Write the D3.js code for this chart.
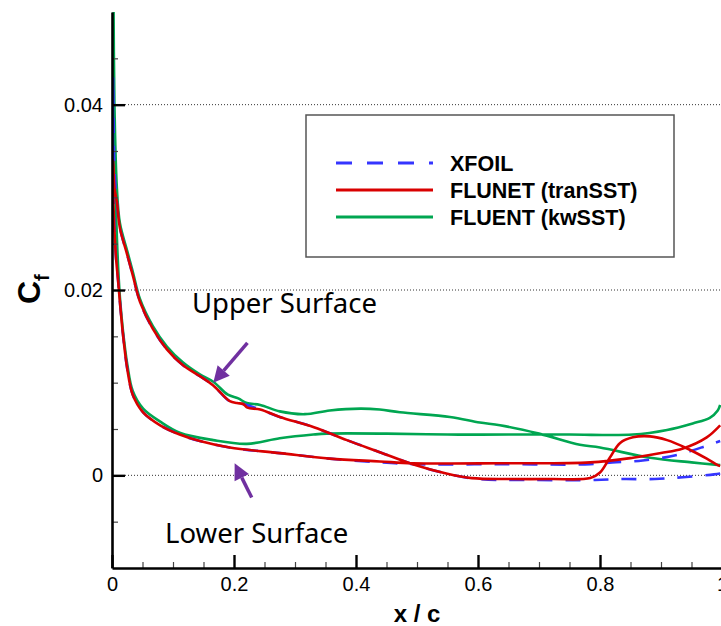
<!DOCTYPE html>
<html>
<head>
<meta charset="utf-8">
<script src="https://cdn.jsdelivr.net/npm/d3@7/dist/d3.min.js"></script>
<style>
body { margin: 0; background: #fff; }
</style>
</head>
<body>
<svg id="chart" width="721" height="626"></svg>
<script>
// ---- data ----
// FLUNET (tranSST), red
var flunetUpperX  = [0.002, 0.004, 0.008, 0.013, 0.025, 0.034, 0.046, 0.067, 0.090, 0.116, 0.144, 0.166, 0.193, 0.205, 0.215, 0.222, 0.243, 0.275, 0.331, 0.385, 0.439, 0.493, 0.548, 0.590, 0.650, 0.720, 0.784, 0.800, 0.816, 0.833, 0.854, 0.882, 0.910, 0.943, 0.975, 0.993, 0.997];
var flunetUpperCf = [0.034, 0.031, 0.0295, 0.0267, 0.0238, 0.0216, 0.0187, 0.0158, 0.0136, 0.0119, 0.0107, 0.0097, 0.0080, 0.0078, 0.0077, 0.0073, 0.0071, 0.0063, 0.0052, 0.0038, 0.0025, 0.0012, 0.0002, -0.0003, -0.0004, -0.0004, -0.0003, 0.0003, 0.0019, 0.0035, 0.0041, 0.0042, 0.0038, 0.0029, 0.0018, 0.0011, 0.0010];
var flunetLowerX  = [0.002, 0.006, 0.010, 0.013, 0.018, 0.025, 0.034, 0.051, 0.079, 0.111, 0.144, 0.193, 0.275, 0.357, 0.439, 0.493, 0.636, 0.784, 0.854, 0.900, 0.936, 0.975, 0.997];
var flunetLowerCf = [0.030, 0.024, 0.021, 0.0187, 0.0152, 0.0115, 0.0087, 0.0068, 0.0054, 0.0044, 0.0037, 0.0030, 0.0024, 0.0018, 0.0015, 0.0013, 0.0013, 0.0014, 0.0019, 0.0024, 0.0029, 0.0041, 0.0054];

// XFOIL, blue dashed
var xfoilUpperX  = [0.002, 0.004, 0.008, 0.013, 0.025, 0.034, 0.046, 0.067, 0.090, 0.116, 0.144, 0.166, 0.193, 0.215, 0.243, 0.275, 0.331, 0.385, 0.439, 0.493, 0.548, 0.600, 0.680, 0.792, 0.836, 0.890, 0.936, 0.987, 0.997];
var xfoilUpperCf = [0.043, 0.033, 0.0295, 0.0267, 0.0238, 0.0216, 0.0187, 0.0158, 0.0136, 0.0119, 0.0107, 0.0097, 0.0080, 0.0077, 0.0071, 0.0063, 0.0052, 0.0038, 0.0025, 0.0012, 0.0002, -0.0004, -0.0005, -0.0005, -0.0004, -0.0004, -0.0002, 0.0001, 0.0002];
var xfoilLowerX  = [0.002, 0.006, 0.010, 0.013, 0.018, 0.025, 0.034, 0.051, 0.079, 0.111, 0.144, 0.193, 0.275, 0.357, 0.439, 0.500, 0.636, 0.784, 0.820, 0.870, 0.926, 0.975, 0.997];
var xfoilLowerCf = [0.032, 0.024, 0.021, 0.0187, 0.0152, 0.0115, 0.0087, 0.0068, 0.0054, 0.0044, 0.0037, 0.0030, 0.0024, 0.0018, 0.0014, 0.0012, 0.0012, 0.0012, 0.0014, 0.0016, 0.0022, 0.0032, 0.0037];

// FLUENT (kwSST), green
var fluentUpperX  = [0.002, 0.004, 0.008, 0.013, 0.025, 0.034, 0.046, 0.067, 0.090, 0.116, 0.144, 0.166, 0.190, 0.207, 0.221, 0.243, 0.275, 0.316, 0.357, 0.407, 0.439, 0.472, 0.554, 0.603, 0.636, 0.700, 0.767, 0.800, 0.882, 0.950, 0.997];
var fluentUpperCf = [0.056, 0.040, 0.031, 0.0272, 0.0242, 0.0220, 0.0190, 0.0161, 0.0139, 0.0122, 0.0109, 0.0101, 0.0087, 0.0083, 0.0078, 0.0076, 0.0069, 0.0066, 0.0070, 0.0072, 0.0071, 0.0068, 0.0063, 0.0057, 0.0054, 0.0045, 0.0033, 0.0030, 0.0019, 0.0014, 0.0011];
var fluentLowerX  = [0.002, 0.005, 0.009, 0.013, 0.018, 0.025, 0.034, 0.051, 0.079, 0.111, 0.166, 0.221, 0.275, 0.330, 0.352, 0.450, 0.550, 0.650, 0.750, 0.854, 0.910, 0.952, 0.980, 0.993, 0.997];
var fluentLowerCf = [0.056, 0.033, 0.024, 0.0192, 0.0156, 0.0120, 0.0091, 0.0072, 0.0058, 0.0046, 0.0038, 0.0034, 0.0040, 0.0044, 0.0045, 0.0045, 0.0044, 0.0044, 0.0044, 0.0044, 0.0049, 0.0056, 0.0062, 0.0070, 0.0076];

var xMajorTicks = [0, 0.2, 0.4, 0.6, 0.8, 1];
var xTickLabels = ["0", "0.2", "0.4", "0.6", "0.8", "1"];
var yMajorTicks = [0, 0.02, 0.04];
var yTickLabels = ["0", "0.02", "0.04"];
var xMinorTicks = [0.05, 0.1, 0.15, 0.25, 0.3, 0.35, 0.45, 0.5, 0.55, 0.65, 0.7, 0.75, 0.85, 0.9, 0.95];
var yMinorTicks = [-0.005, 0.005, 0.01, 0.015, 0.025, 0.03, 0.035, 0.045];

var legendLabels = ["XFOIL", "FLUNET (tranSST)", "FLUENT (kwSST)"];
var legendColors = ["#3535ff", "#d90000", "#00a651"];
var legendDash   = ["16,15", null, null];

// annotations: [text, x, cf] and arrows [x1, cf1, x2, cf2] (tail -> tip)
var annoText   = [["Upper Surface", 0.131, 0.0175], ["Lower Surface", 0.087, -0.0073]];
var annoArrows = [[0.222, 0.0143, 0.166, 0.0100], [0.229, -0.0024, 0.201, 0.0013]];

// ---- layout ----
var width = 721, height = 626;
var plot = {left: 112, right: 722, top: 12, bottom: 568};

var svg = d3.select("#chart");

var xScale = d3.scaleLinear().domain([0, 1]).range([plot.left, plot.right]);
var yScale = d3.scaleLinear().domain([-0.01, 0.05]).range([plot.bottom, plot.top]);

// dotted grid lines
svg.append("g").selectAll("line")
  .data(yMajorTicks)
  .enter().append("line")
  .attr("x1", plot.left + 13)
  .attr("x2", width)
  .attr("y1", function(d){ return yScale(d); })
  .attr("y2", function(d){ return yScale(d); })
  .attr("stroke", "#333")
  .attr("stroke-width", 1)
  .attr("stroke-dasharray", "1,2");

// curves
svg.append("clipPath").attr("id", "clip")
  .append("rect")
  .attr("x", plot.left).attr("y", plot.top)
  .attr("width", plot.right - plot.left).attr("height", plot.bottom - plot.top);

function loop(ux, uc, lx, lc) {
  var pts = [];
  for (var i = ux.length - 1; i >= 0; i--) pts.push([ux[i], uc[i]]);
  for (var j = 0; j < lx.length; j++) {
    if (j == 0 && lx[0] == ux[0] && lc[0] == uc[0]) continue;
    pts.push([lx[j], lc[j]]);
  }
  return pts;
}

var series = [
  {pts: loop(fluentUpperX, fluentUpperCf, fluentLowerX, fluentLowerCf), color: legendColors[2], dash: null},
  {pts: loop(xfoilUpperX, xfoilUpperCf, xfoilLowerX, xfoilLowerCf), color: legendColors[0], dash: "15,13"},
  {pts: loop(flunetUpperX, flunetUpperCf, flunetLowerX, flunetLowerCf), color: legendColors[1], dash: null}
];

var line = d3.line()
  .x(function(d){ return xScale(d[0]); })
  .y(function(d){ return yScale(d[1]); })
  .curve(d3.curveCatmullRom.alpha(0.5));

svg.append("g").attr("clip-path", "url(#clip)")
  .selectAll("path")
  .data(series)
  .enter().append("path")
  .attr("d", function(d){ return line(d.pts); })
  .attr("fill", "none")
  .attr("stroke", function(d){ return d.color; })
  .attr("stroke-width", 2.6)
  .attr("stroke-dasharray", function(d){ return d.dash; })
  .attr("stroke-linejoin", "round");

// minor ticks
var xMinor = svg.append("g")
  .attr("transform", "translate(0," + plot.bottom + ")")
  .call(d3.axisBottom(xScale).tickValues(xMinorTicks).tickSize(-6).tickSizeOuter(0).tickFormat(""));
var yMinor = svg.append("g")
  .attr("transform", "translate(" + plot.left + ",0)")
  .call(d3.axisLeft(yScale).tickValues(yMinorTicks).tickSize(-6).tickSizeOuter(0).tickFormat(""));
[xMinor, yMinor].forEach(function(g){
  g.select(".domain").remove();
  g.selectAll(".tick line").attr("stroke", "#444").attr("stroke-width", 1.2);
});

// major axes
var xAxis = svg.append("g")
  .attr("transform", "translate(0," + plot.bottom + ")")
  .call(d3.axisBottom(xScale).tickValues(xMajorTicks).tickSize(-13).tickSizeOuter(0).tickPadding(9)
    .tickFormat(function(d, i){ return xTickLabels[i]; }));
var yAxis = svg.append("g")
  .attr("transform", "translate(" + plot.left + ",0)")
  .call(d3.axisLeft(yScale).tickValues(yMajorTicks).tickSize(-13).tickSizeOuter(0).tickPadding(9)
    .tickFormat(function(d, i){ return yTickLabels[i]; }));
[xAxis, yAxis].forEach(function(g){
  g.select(".domain").attr("stroke", "#000").attr("stroke-width", 2.6);
  g.selectAll(".tick line").attr("stroke", "#000").attr("stroke-width", 2.4);
  g.selectAll(".tick text")
    .attr("fill", "#000")
    .style("font-family", "'Liberation Sans', Arial, sans-serif")
    .style("font-size", "20px");
});

// axis titles
svg.append("text")
  .attr("x", (plot.left + plot.right) / 2)
  .attr("y", 622)
  .attr("text-anchor", "middle")
  .style("font-family", "'Liberation Sans', Arial, sans-serif")
  .style("font-weight", "bold")
  .style("font-size", "24px")
  .text("x / c");

var yTitle = svg.append("text")
  .attr("transform", "translate(40,304) rotate(-90)")
  .style("font-family", "'Liberation Sans', Arial, sans-serif")
  .style("font-weight", "bold")
  .style("font-size", "32px");
yTitle.append("tspan").text("C");
yTitle.append("tspan").attr("dy", 9).style("font-size", "20px").text("f");

// legend
var legend = svg.append("g").attr("transform", "translate(306,115)");
legend.append("rect")
  .attr("width", 368).attr("height", 142)
  .attr("fill", "#fff")
  .attr("stroke", "#555")
  .attr("stroke-width", 1.5);
var rows = legend.selectAll("g.row")
  .data(legendLabels)
  .enter().append("g")
  .attr("class", "row")
  .attr("transform", function(d, i){ return "translate(0," + (48 + i * 27) + ")"; });
rows.append("line")
  .attr("x1", 30).attr("x2", 127)
  .attr("stroke", function(d, i){ return legendColors[i]; })
  .attr("stroke-width", 3)
  .attr("stroke-dasharray", function(d, i){ return legendDash[i]; });
rows.append("text")
  .attr("x", 144).attr("y", 8)
  .style("font-family", "'Liberation Sans', Arial, sans-serif")
  .style("font-weight", "bold")
  .style("font-size", "21.5px")
  .text(function(d){ return d; });

// annotations
svg.append("g").selectAll("text")
  .data(annoText)
  .enter().append("text")
  .attr("x", function(d){ return xScale(d[1]); })
  .attr("y", function(d){ return yScale(d[2]); })
  .style("font-family", "'Noto Sans', 'Open Sans', sans-serif")
  .style("font-size", "27.5px")
  .text(function(d){ return d[0]; });

var arrowColor = "#7030a0";
annoArrows.forEach(function(a){
  var x1 = xScale(a[0]), y1 = yScale(a[1]), x2 = xScale(a[2]), y2 = yScale(a[3]);
  var dx = x2 - x1, dy = y2 - y1, len = Math.sqrt(dx*dx + dy*dy);
  var ux = dx / len, uy = dy / len;
  var headL = 16, headW = 8;
  var bx = x2 - ux * headL, by = y2 - uy * headL;
  svg.append("line")
    .attr("x1", x1).attr("y1", y1).attr("x2", bx).attr("y2", by)
    .attr("stroke", arrowColor).attr("stroke-width", 3.5);
  svg.append("polygon")
    .attr("points", [[x2, y2], [bx - uy * headW, by + ux * headW], [bx + uy * headW, by - ux * headW]].join(" "))
    .attr("fill", arrowColor);
});
</script>
</body>
</html>
